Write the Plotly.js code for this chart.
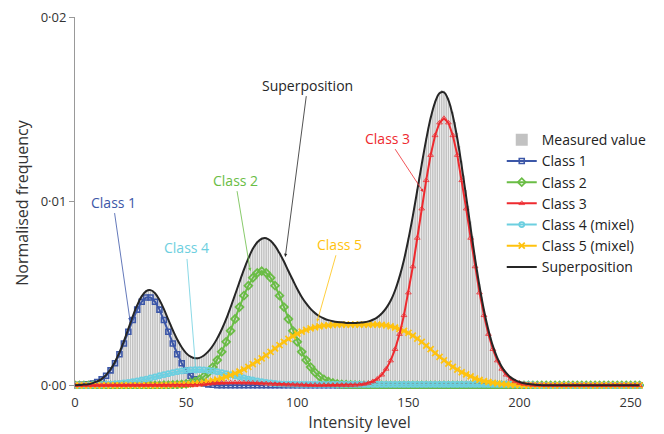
<!DOCTYPE html>
<html>
<head>
<meta charset="utf-8">
<script src="https://cdn.plot.ly/plotly-3.0.1.min.js"></script>
<style>html,body{margin:0;padding:0;background:#fff;}#chart{width:664px;height:434px;}</style>
</head>
<body>
<div id="chart"></div>
<script>
// Values are in units of 1e-4 (normalised frequency)
const UNIT = 1e-4;
// Measured histogram, intensity levels 0..255
const measured = [
0.1,0.2,0.2,0.3,0.4,0.6,0.7,0.8,1.1,1.6,
2.2,2.9,3.4,4.6,5.9,7.0,8.5,10.6,12.9,15.2,
18.3,21.0,24.5,27.2,30.3,34.8,37.9,40.1,43.9,46.0,
48.9,50.2,51.6,52.3,51.2,51.5,49.4,48.6,46.8,44.0,
41.7,38.6,35.2,33.3,29.7,27.1,24.6,23.0,20.4,19.0,
17.6,16.5,15.3,14.9,14.5,14.6,15.1,15.3,16.4,17.1,
18.6,19.9,21.2,23.6,25.9,27.7,30.6,32.9,36.3,39.0,
42.8,45.6,49.7,52.3,56.6,59.5,63.3,65.7,69.4,71.2,
74.5,76.4,78.1,78.6,80.2,79.9,80.3,79.2,78.9,77.6,
75.9,74.1,72.3,69.5,67.7,64.8,62.6,59.3,57.8,54.5,
52.6,50.0,48.3,46.0,44.7,42.6,41.7,40.1,39.3,38.0,
37.6,36.6,36.4,35.5,35.4,34.8,34.9,34.3,34.5,34.0,
34.2,33.8,34.1,33.7,33.9,33.6,34.0,33.7,34.2,33.9,
34.4,34.3,34.9,35.0,35.8,36.2,37.1,37.8,39.3,40.3,
42.2,43.6,46.3,48.5,52.0,55.1,59.4,63.3,68.6,73.4,
79.9,85.6,92.7,99.0,106.6,113.1,120.8,127.0,134.2,140.0,
145.9,150.2,154.5,157.0,159.4,160.3,160.0,158.4,156.1,151.9,
148.5,143.0,137.0,130.0,122.0,114.0,106.0,97.5,89.0,81.0,
70.5,62.5,55.0,48.0,41.6,35.8,30.5,26.0,21.8,18.4,
15.1,12.4,10.2,8.2,6.8,5.4,4.4,3.5,2.8,2.3,
1.8,1.4,1.1,0.9,0.7,0.5,0.4,0.3,0.2,0.2,
0.1,0.1,0.1,0.1,0.1,0.1,0.1,0.1,0.1,0.1,
0.1,0.1,0.1,0.1,0.1,0.1,0.1,0.1,0.1,0.1,
0.1,0.1,0.1,0.1,0.1,0.1,0.1,0.1,0.1,0.1,
0.1,0.1,0.1,0.1,0.1,0.1,0.1,0.1,0.1,0.1,
0.1,0.1,0.1,0.1,0.1,0.1
];
// Fitted class curves at intensity levels 0,2,4,...,254
const class1 = [
0.1,0.1,0.3,0.5,1.0,1.8,3.2,5.2,8.1,12.0,16.9,22.7,29.1,35.5,41.1,45.4,47.7,
47.7,45.4,41.1,35.5,29.1,22.7,16.9,12.0,8.1,5.2,3.2,1.8,1.0,0.5,0.3,0.1,0.1,
0,0,0,0,0,0,0,0,0,0,0,0,0,0,0,0,0,0,0,0,0,0,0,0,0,0,0,0,0,0,0,0,0,0,0,0,0,
0,0,0,0,0,0,0,0,0,0,0,0,0,0,0,0,0,0,0,0,0,0,0,0,0,0,0,0,0,0,0,0,0,0,0,0,0,
0,0,0,0,0,0,0,0,0,0,0,0,0,0,0,0,0,0,0,0
];
const class2 = [
0,0,0,0,0,0,0,0,0,0,0,0,0,0,0,0,0,0,0,0,
0.1,0.1,0.2,0.3,0.5,0.8,1.3,2.1,3.2,4.8,7.0,9.9,13.7,18.2,23.6,29.6,36.0,42.5,48.7,54.1,58.4,61.1,
62.0,61.1,58.4,54.1,48.7,42.5,36.0,29.6,23.6,18.2,13.7,9.9,7.0,4.8,3.2,2.1,1.3,0.8,0.5,0.3,0.2,0.1,0.1,
0,0,0,0,0,0,0,0,0,0,0,0,0,0,0,0,0,0,0,0,0,0,0,0,0,0,0,0,0,0,0,0,
0,0,0,0,0,0,0,0,0,0,0,0,0,0,0,0,0,0,0,0,0,0,0,0,0,0,0,0,0,0,0
];
const class3 = [
0,0,0,0,0,0,0,0,0,0,0,0,0,0,0,0,0,0,0,0,0,0,0,0,0,0,0,0,
0.3,0.5,0.8,1.0,1.2,1.3,1.4,1.5,1.5,1.5,1.4,1.4,1.3,1.2,1.0,0.9,0.7,0.6,0.5,0.4,0.3,0.3,0.2,0.2,
0.1,0.1,0.1,0.1,0.1,0.1,0.1,0.1,0.1,0.1,0.1,0.2,0.4,0.7,1.2,2.1,3.5,5.7,8.9,13.4,19.6,27.8,38.0,
50.3,64.5,80.0,95.9,111.3,125.0,135.7,142.6,145.0,142.6,135.7,125.0,111.3,95.9,80.0,64.5,50.3,
38.0,27.8,19.6,13.4,8.9,5.7,3.5,2.1,1.2,0.7,0.4,0.2,0.1,0.1,
0,0,0,0,0,0,0,0,0,0,0,0,0,0,0,0,0,0,0,0,0,0
];
const class4 = [
0.0,0.1,0.1,0.1,0.2,0.3,0.3,0.5,0.6,0.8,1.0,1.3,1.6,2.0,2.4,2.9,3.4,4.0,4.6,5.2,
5.8,6.3,6.9,7.4,7.8,8.1,8.4,8.5,8.5,8.4,8.1,7.8,7.4,6.9,6.3,5.8,5.2,4.6,4.0,3.4,
2.9,2.4,2.0,1.6,1.3,1.0,0.8,0.7,0.6,0.6,
0.5,0.5,0.5,0.5,0.5,0.5,0.5,0.5,0.5,0.5,0.5,0.5,0.5,0.5,0.5,0.5,0.5,0.5,0.5,0.5,
0.5,0.5,0.5,0.5,0.5,0.5,0.5,0.5,0.5,0.5,0.5,0.5,0.5,0.5,0.5,0.5,0.5,0.5,0.5,0.5,
0.5,0.5,0.5,0.5,0.5,0.5,0.5,0.5,0.5,0.5,0.5,
0.4,0.3,0.2,0.1,
0,0,0,0,0,0,0,0,0,0,0,0,0,0,0,0,0,0,0,0,0,0,0
];
const class5 = [
0,0,0,0,0,0,0,0,0,0,0,0,0,0,0,0,0,0,0,0,0,
0.1,0.2,0.3,0.4,0.5,0.7,0.9,1.1,1.5,2.0,2.5,3.1,3.8,4.6,5.5,6.5,7.5,8.7,10.0,11.5,
13.0,14.6,16.3,18.1,20.0,21.8,23.6,25.2,26.7,28.0,29.1,30.1,30.9,31.5,32.0,32.4,32.6,32.8,32.9,33.0,
33.0,33.0,33.0,33.0,33.0,33.0,33.0,32.9,32.8,32.5,32.0,31.4,30.6,29.6,28.5,27.0,25.4,23.6,21.6,19.6,
17.5,15.5,13.6,11.8,10.0,8.5,7.1,5.9,4.8,3.8,3.0,2.3,1.8,1.3,1.0,0.7,0.5,0.3,0.2,0.1,
0,0,0,0,0,0,0,0,0,0,0,0,0,0,0,0,0,0,0,0,0,0,0,0,0,0,0
];
const superposition = [
0.1,0.2,0.4,0.6,1.2,2.1,3.5,5.7,8.7,12.8,17.9,24.0,30.7,37.5,43.5,48.3,51.1,51.7,50.0,46.3,
41.4,35.6,30.0,24.9,20.7,17.5,15.6,14.7,14.9,16.2,18.4,21.5,25.5,30.3,35.9,42.4,49.2,56.1,62.8,68.9,
74.1,77.7,79.6,79.9,78.5,75.7,71.8,67.2,62.1,57.2,52.3,48.0,44.5,41.5,39.2,37.5,36.3,35.4,34.8,34.4,
34.2,33.9,33.8,33.8,34.0,34.2,34.7,35.6,36.9,39.0,41.9,45.9,51.5,58.9,68.1,79.3,92.0,105.9,120.0,133.4,
145.1,153.7,158.6,159.1,154.9,146.2,134.0,118.9,102.3,85.3,68.8,53.8,40.8,30.1,21.4,14.9,10.1,6.7,4.3,2.8,
1.8,1.1,0.7,0.4,0.2,0.1,
0,0,0,0,0,0,0,0,0,0,0,0,0,0,0,0,0,0,0,0,0,0
];
const barLevels = measured.map((_, i) => i);
const curveLevels = class1.map((_, i) => 2 * i);
const xTicks = [0, 50, 100, 150, 200, 250];
const yTicks = [0, 0.01, 0.02];
const yTickText = ['0·00', '0·01', '0·02'];
const scale = a => a.map(v => v * UNIT);

const C = {
  c1: '#3c57a8', c2: '#6abd45', c3: '#ee2a2f', c4: '#6dcfe0', c5: '#ffc20e', sup: '#262626'
};

const traces = [
  {type:'bar', name:'Measured value', x:barLevels, y:scale(measured),
   marker:{color:'#c2c2c2', line:{width:0}}, legendrank:1},
  {type:'scatter', mode:'lines+markers', name:'Class 1', x:curveLevels, y:scale(class1),
   line:{color:C.c1, width:2}, marker:{symbol:'square-open', size:5, color:C.c1, line:{width:1.6}}, legendrank:2},
  {type:'scatter', mode:'lines+markers', name:'Class 2', x:curveLevels, y:scale(class2),
   line:{color:C.c2, width:2}, marker:{symbol:'diamond-open', size:6, color:C.c2, line:{width:1.8}}, legendrank:3},
  {type:'scatter', mode:'lines+markers', name:'Class 4 (mixel)', x:curveLevels, y:scale(class4),
   line:{color:C.c4, width:2}, marker:{symbol:'circle-open', size:5, color:C.c4, line:{width:1.8}}, legendrank:5},
  {type:'scatter', mode:'lines+markers', name:'Class 5 (mixel)', x:curveLevels, y:scale(class5),
   line:{color:C.c5, width:2}, marker:{symbol:'x-thin', size:6, color:C.c5, line:{width:1.8, color:C.c5}}, legendrank:6},
  {type:'scatter', mode:'lines+markers', name:'Class 3', x:curveLevels, y:scale(class3),
   line:{color:C.c3, width:2}, marker:{symbol:'triangle-up-open', size:5, color:C.c3, line:{width:0.8}}, legendrank:4},
  {type:'scatter', mode:'lines', name:'Superposition', x:curveLevels, y:scale(superposition),
   line:{color:C.sup, width:2, shape:'spline'}, legendrank:7}
];

// annotation label positions (text centre) and arrow tips, in data units
const annLabels = ['Class 1', 'Class 4', 'Class 2', 'Superposition', 'Class 5', 'Class 3'];
const annColors = [C.c1, C.c4, C.c2, C.sup, C.c5, C.c3];
const annTextX = [17.1, 50.0, 72.1, 104.7, 118.8, 140.8];
const annTextY = [0.00995, 0.00746, 0.01114, 0.0163, 0.00766, 0.01342];
const annTipX = [24.8, 54.5, 78.9, 94.6, 108.9, 156.7];
const annTipY = [0.00348, 0.0006, 0.0062, 0.00697, 0.00344, 0.0105];

const annotations = annLabels.map((t, i) => ({
  text: t, x: annTipX[i], y: annTipY[i], ax: annTextX[i], ay: annTextY[i],
  xref:'x', yref:'y', axref:'x', ayref:'y', showarrow:true,
  arrowhead:2, arrowsize:0.8, arrowwidth:0.8, arrowcolor: annColors[i],
  font:{color: annColors[i], size:14, family:'Open Sans'}
}));

const layout = {
  width:664, height:434,
  margin:{l:75, r:14.5, t:17, b:45, pad:0},
  paper_bgcolor:'#fff', plot_bgcolor:'#fff',
  font:{family:'Open Sans', color:'#333', size:13},
  bargap:0.3,
  showlegend:true,
  legend:{x:0.75, y:0.712, xanchor:'left', yanchor:'top', bgcolor:'rgba(0,0,0,0)',
          font:{size:14, color:'#222'}, tracegroupgap:0},
  xaxis:{range:[0,256], tickvals:xTicks, ticks:'', showline:false, zeroline:false, showgrid:false,
         tickfont:{size:13, color:'#333'}, ticklabelstandoff:4,
         title:{text:'Intensity level', font:{size:16, color:'#333'}, standoff:6}},
  yaxis:{range:[-0.0002,0.02], tickvals:yTicks, ticktext:yTickText, ticks:'outside', ticklen:5,
         tickcolor:'#999', showline:true, linecolor:'#999', linewidth:1, showgrid:false, zeroline:false,
         tickfont:{size:13, color:'#333'},
         title:{text:'Normalised frequency', font:{size:16, color:'#333'}, standoff:8}},
  annotations: annotations
};

Plotly.newPlot('chart', traces, layout, {displayModeBar:false, staticPlot:true});
</script>
</body>
</html>
